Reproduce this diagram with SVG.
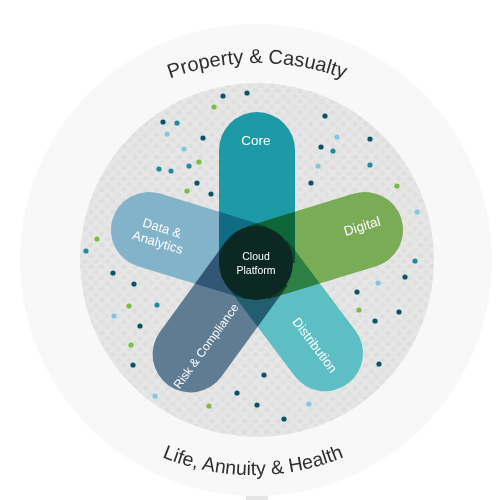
<svg xmlns="http://www.w3.org/2000/svg" width="500" height="500" viewBox="0 0 500 500">
  <defs>
    <pattern id="halftone" width="11" height="11" patternUnits="userSpaceOnUse">
      <rect width="11" height="11" fill="#e6e6e6"/>
      <circle cx="2.75" cy="2.75" r="2.6" fill="#dedede"/>
      <circle cx="8.25" cy="8.25" r="2.6" fill="#e0e0e0"/>
    </pattern>
    <path id="arcTop" d="M7,313 A250,250 0 0 1 507,313"/>
    <path id="arcBottom" d="M13,235 A240,240 0 0 0 493,235"/>
    <path id="pill" d="M0,-38 H113 A38,38 0 0 1 113,38 H0 Z"/>
    <style>
      .ring { font-family: "Liberation Sans", Arial, sans-serif; font-size: 20px; fill: #2e2e2e; }
      .lbl { font-family: "Liberation Sans", Arial, sans-serif; fill: #ffffff; text-anchor: middle; }
      .p { mix-blend-mode: multiply; }
      .d { fill: #0b5366; }
      .t { fill: #1f8b9b; }
      .l { fill: #82c6e2; }
      .g { fill: #7cbb45; }
    </style>
  </defs>

  <rect width="500" height="500" fill="#ffffff"/>
  <rect x="246" y="493" width="22" height="7" fill="#e4e4e4"/>
  <circle cx="256" cy="260" r="236" fill="#f8f8f8"/>
  <circle cx="257" cy="260" r="177" fill="url(#halftone)"/>

  <g id="ring-labels">
    <text class="ring" text-anchor="middle"><textPath href="#arcTop" startOffset="50%">Property &amp; Casualty</textPath></text>
    <text class="ring" text-anchor="middle" style="font-size:19.5px"><textPath href="#arcBottom" startOffset="50%">Life, Annuity &amp; Health</textPath></text>
  </g>

  <g id="dots">
    <circle class="d" cx="223" cy="96" r="2.6"/><circle class="d" cx="247" cy="93" r="2.6"/>
    <circle class="d" cx="163" cy="122" r="2.6"/><circle class="d" cx="203" cy="138" r="2.6"/>
    <circle class="d" cx="197" cy="183" r="2.6"/><circle class="d" cx="211" cy="194" r="2.6"/>
    <circle class="d" cx="325" cy="116" r="2.6"/><circle class="d" cx="370" cy="139" r="2.6"/>
    <circle class="d" cx="321" cy="147" r="2.6"/><circle class="d" cx="311" cy="183" r="2.6"/>
    <circle class="d" cx="405" cy="277" r="2.6"/><circle class="d" cx="357" cy="292" r="2.6"/>
    <circle class="d" cx="399" cy="312" r="2.6"/><circle class="d" cx="375" cy="321" r="2.6"/>
    <circle class="d" cx="379" cy="364" r="2.6"/><circle class="d" cx="264" cy="375" r="2.6"/>
    <circle class="d" cx="257" cy="405" r="2.6"/><circle class="d" cx="284" cy="419" r="2.6"/>
    <circle class="d" cx="237" cy="393" r="2.6"/><circle class="d" cx="113" cy="273" r="2.6"/>
    <circle class="d" cx="134" cy="284" r="2.6"/><circle class="d" cx="140" cy="326" r="2.6"/>
    <circle class="d" cx="133" cy="365" r="2.6"/>
    <circle class="t" cx="177" cy="123" r="2.6"/><circle class="t" cx="189" cy="166" r="2.6"/>
    <circle class="t" cx="159" cy="169" r="2.6"/><circle class="t" cx="171" cy="171" r="2.6"/>
    <circle class="t" cx="86" cy="251" r="2.6"/><circle class="t" cx="333" cy="151" r="2.6"/>
    <circle class="t" cx="370" cy="165" r="2.6"/><circle class="t" cx="415" cy="261" r="2.6"/>
    <circle class="t" cx="157" cy="305" r="2.6"/>
    <circle class="l" cx="167" cy="134" r="2.6"/><circle class="l" cx="184" cy="149" r="2.6"/>
    <circle class="l" cx="337" cy="137" r="2.6"/><circle class="l" cx="318" cy="166" r="2.6"/>
    <circle class="l" cx="417" cy="212" r="2.6"/><circle class="l" cx="378" cy="283" r="2.6"/>
    <circle class="l" cx="309" cy="404" r="2.6"/><circle class="l" cx="114" cy="316" r="2.6"/>
    <circle class="l" cx="155" cy="396" r="2.6"/>
    <circle class="g" cx="214" cy="107" r="2.6"/><circle class="g" cx="199" cy="162" r="2.6"/>
    <circle class="g" cx="187" cy="191" r="2.6"/><circle class="g" cx="97" cy="239" r="2.6"/>
    <circle class="g" cx="397" cy="186" r="2.6"/><circle class="g" cx="359" cy="310" r="2.6"/>
    <circle class="g" cx="129" cy="306" r="2.6"/><circle class="g" cx="131" cy="345" r="2.6"/>
    <circle class="g" cx="209" cy="406" r="2.6"/>
  </g>

  <g id="petals" style="isolation:isolate">
    <g id="core"><use href="#pill" class="p" fill="#1d9aa6" transform="translate(257,263) rotate(-90)"/></g>
    <g id="digital"><use href="#pill" class="p" fill="#7aab57" transform="translate(257,263) rotate(-17)"/></g>
    <g id="distribution"><use href="#pill" class="p" fill="#5dbfc3" transform="translate(257,263) rotate(53)"/></g>
    <g id="risk-compliance"><use href="#pill" class="p" fill="#5f7c93" transform="translate(257,263) rotate(126)"/></g>
    <g id="data-analytics"><use href="#pill" class="p" fill="#82b3c9" transform="translate(257,263) rotate(197)"/></g>
  </g>

  <g id="petal-labels">
    <text class="lbl" x="256" y="145" style="font-size:13.5px">Core</text>
    <text class="lbl" style="font-size:13.5px" transform="translate(362,226) rotate(-17)" dy="0.35em">Digital</text>
    <text class="lbl" style="font-size:13px" transform="translate(315,345) rotate(53)" dy="0.35em">Distribution</text>
    <text class="lbl" style="font-size:12px" transform="translate(206,346) rotate(-54)" dy="0.35em">Risk &amp; Compliance</text>
    <g transform="translate(160,235) rotate(17)">
      <text class="lbl" style="font-size:13px" y="-3">Data &amp;</text>
      <text class="lbl" style="font-size:13px" y="12">Analytics</text>
    </g>
  </g>

  <g id="cloud-platform">
    <circle cx="256" cy="263" r="37" fill="#0c2822"/>
    <text class="lbl" x="256" y="260" style="font-size:10.5px">Cloud</text>
    <text class="lbl" x="256" y="274" style="font-size:10.5px">Platform</text>
  </g>
</svg>
